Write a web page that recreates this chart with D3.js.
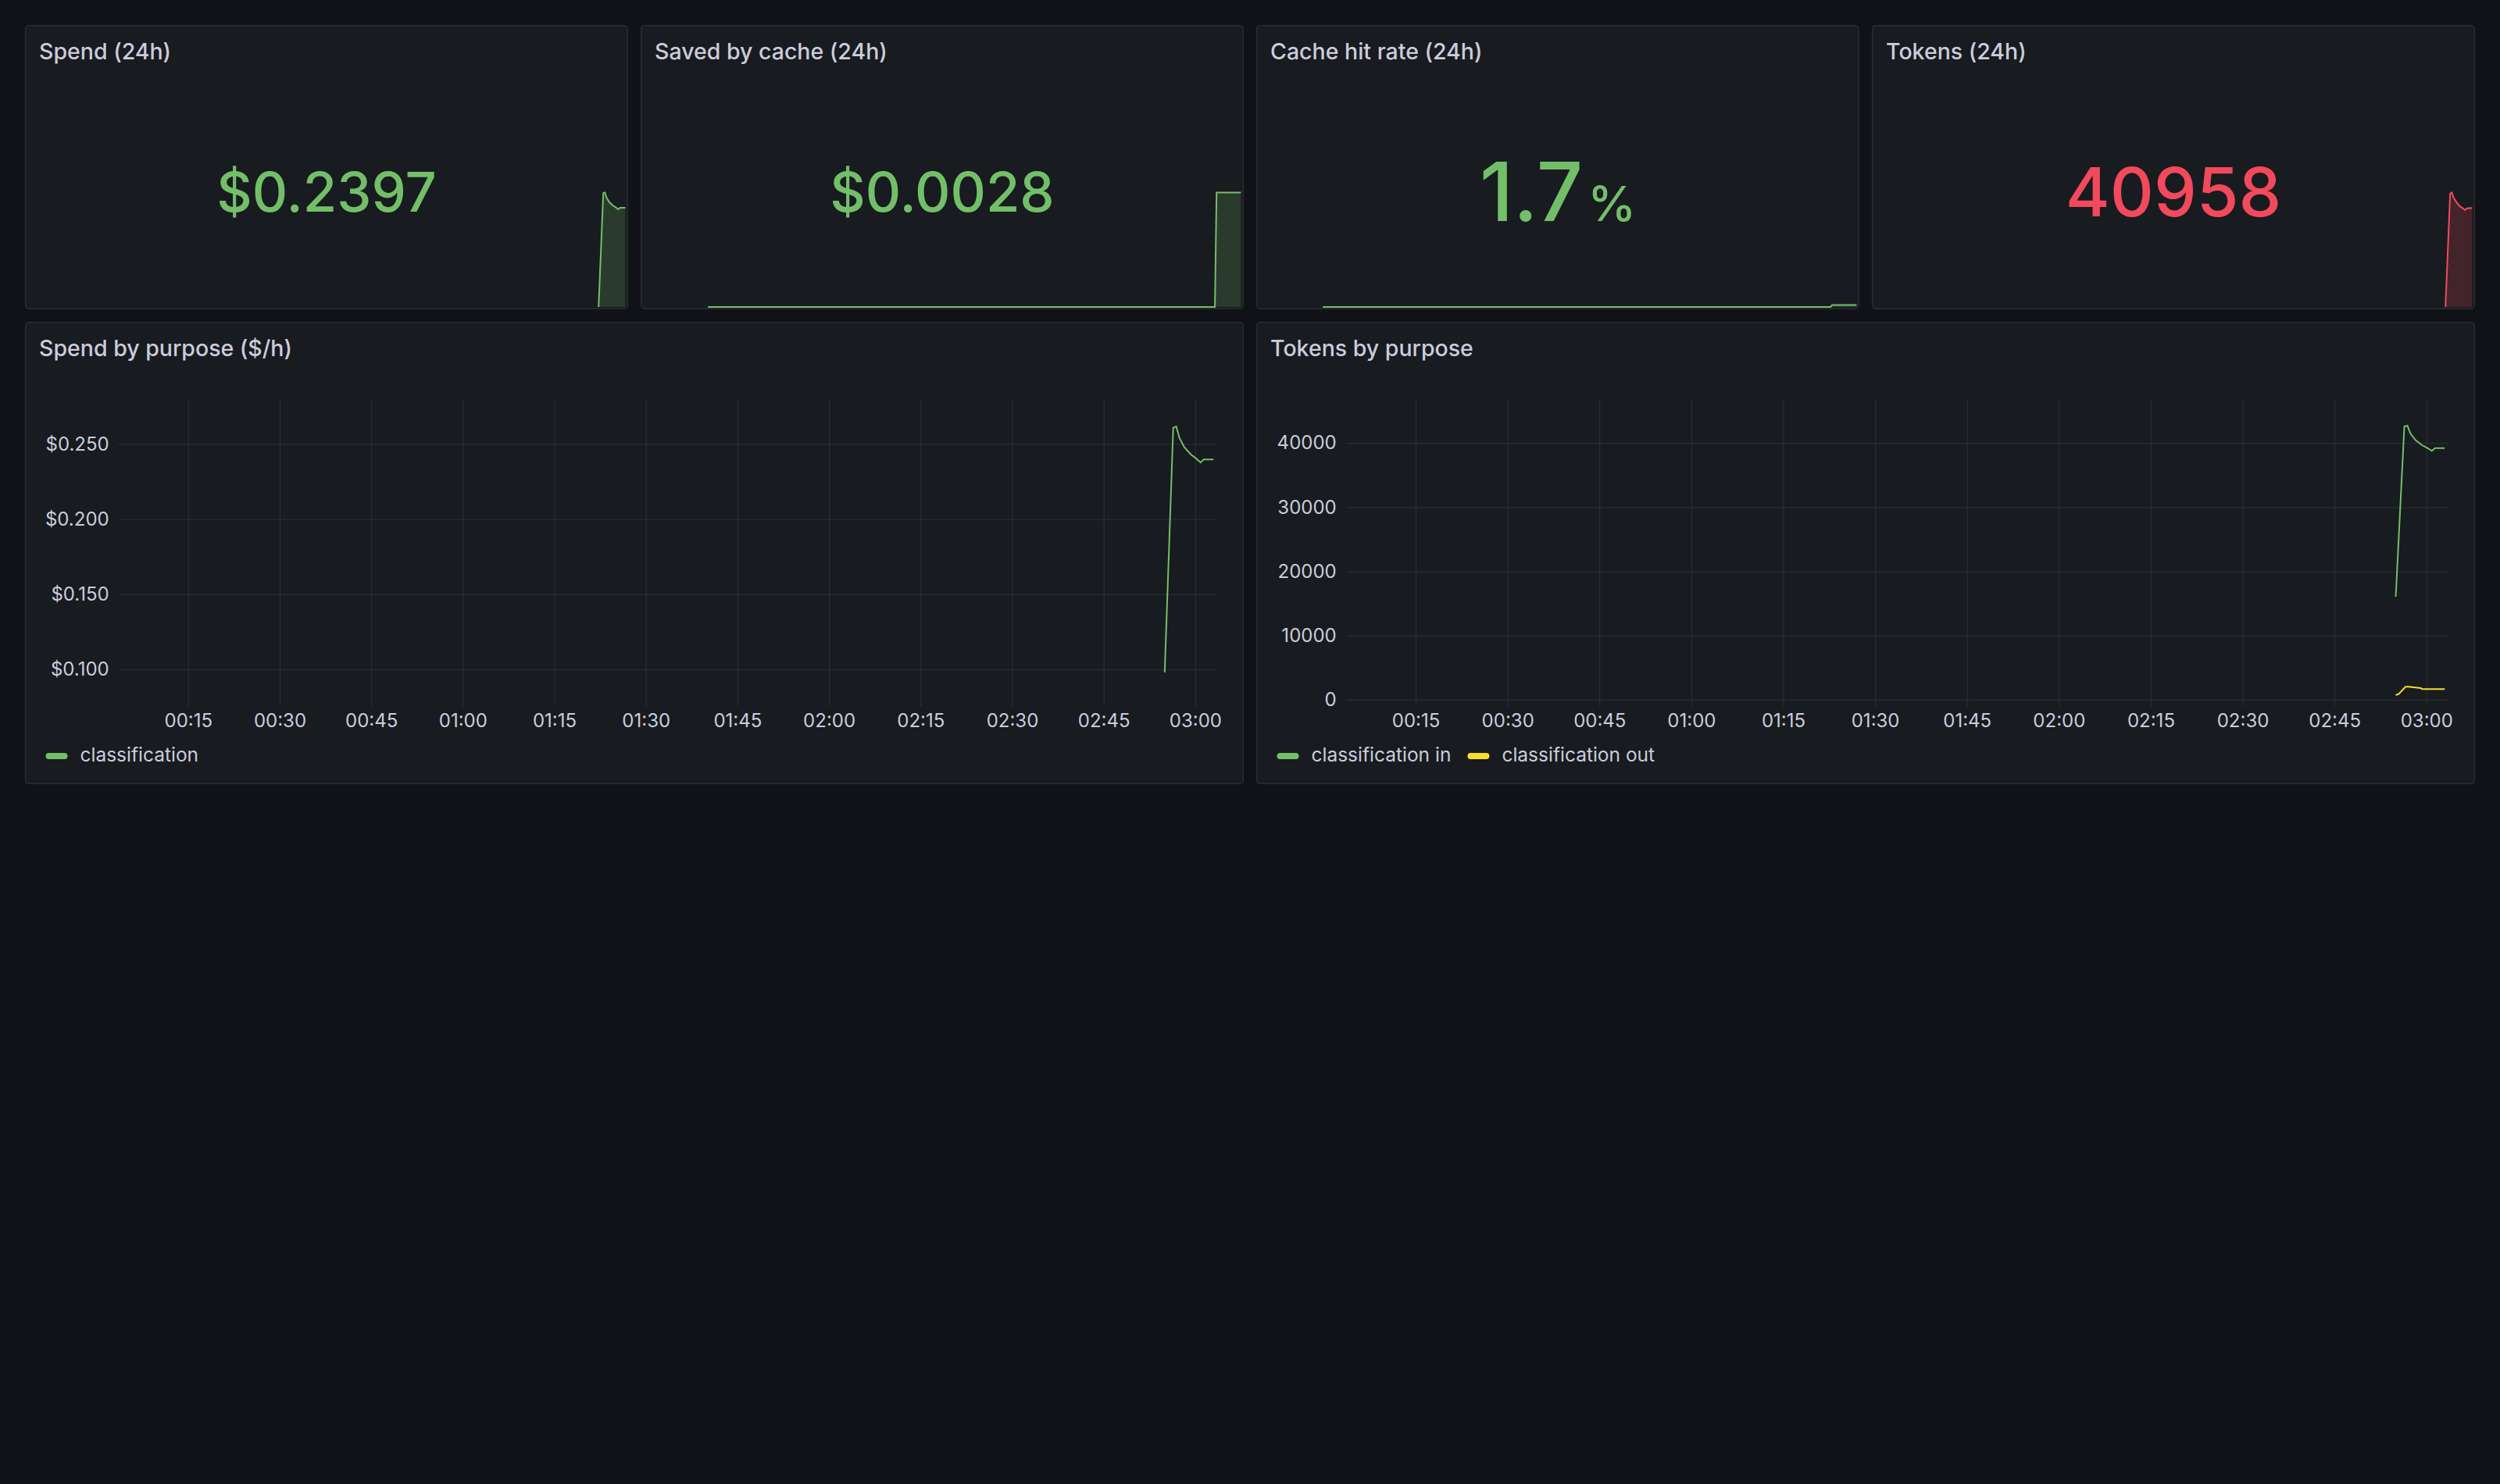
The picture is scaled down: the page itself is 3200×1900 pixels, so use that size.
<!DOCTYPE html>
<html><head><meta charset="utf-8">
<script src="https://cdn.jsdelivr.net/npm/d3@7"></script>
<style>html,body{margin:0;padding:0;background:#111217;overflow:hidden}</style>
</head><body>
<svg id="chart" width="3200" height="1900"></svg>
<script>
// ---------------- data ----------------
const statTitles = ["Spend (24h)", "Saved by cache (24h)", "Cache hit rate (24h)", "Tokens (24h)"];
const statValues = [0.2397, 0.0028, 1.7, 40958];
const statUnits = ["", "", "%", ""];
const statColors = ["#73bf69", "#73bf69", "#73bf69", "#f2495c"];

// time in minutes after 00:00
const timeDomain = [3.6, 183.6];
const seriesTimes = [175.0, 176.4, 176.9, 177.4, 178.2, 179.3, 180.1, 180.9, 181.4, 183.0];
const spendValues = [0.0980, 0.2608, 0.2616, 0.2541, 0.2479, 0.2429, 0.2405, 0.2376, 0.2397, 0.2397];
const tokensInValues = [16060, 42580, 42700, 41480, 40470, 39660, 39260, 38770, 39200, 39200];
const tokensOutTimes = [175.0, 175.5, 176.6, 177.1, 179.1, 179.3, 183.0];
const tokensOutValues = [730, 935, 2030, 2030, 1830, 1680, 1680];
const tokensTotalValues = [16790, 44480, 44730, 43510, 42480, 41360, 40940, 40450, 40880, 40958];
const savedTimes = [23.5, 175.2, 175.7, 183.0];
const savedValues = [0, 0, 0.0028, 0.0028];
const cacheTimes = [23.3, 175.2, 175.7, 183.0];
const cacheValues = [0, 0, 1.7, 1.7];

const xTickMinutes = [15, 30, 45, 60, 75, 90, 105, 120, 135, 150, 165, 180];
const xTickLabels = ["00:15", "00:30", "00:45", "01:00", "01:15", "01:30", "01:45", "02:00", "02:15", "02:30", "02:45", "03:00"];
const spendTicks = [0.10, 0.15, 0.20, 0.25];
const spendTickLabels = ["$0.100", "$0.150", "$0.200", "$0.250"];
const tokenTicks = [0, 10000, 20000, 30000, 40000];
const tokenTickLabels = ["0", "10000", "20000", "30000", "40000"];

const spendLegend = ["classification"];
const tokenLegend = ["classification in", "classification out"];
const spendSeriesColors = ["#73bf69"];
const tokenSeriesColors = ["#73bf69", "#fade2a"];

// ---------------- drawing ----------------
const svg = d3.select("#chart");
const FONT = "Inter, 'Open Sans', sans-serif";
const TEXT = "#ccccdc";
const PANEL_BG = "#181b1f";
const BORDER = "#2a2c32";
const GRID = "#2e3137";

svg.append("rect").attr("width", 3200).attr("height", 1900).attr("fill", "#111217");

function panel(x, y, w, h, title) {
  const g = svg.append("g");
  g.append("rect").attr("x", x + 0.75).attr("y", y + 0.75).attr("width", w - 1.5).attr("height", h - 1.5)
    .attr("rx", 4).attr("fill", PANEL_BG).attr("stroke", BORDER).attr("stroke-width", 1.5);
  g.append("text").attr("x", x + 18).attr("y", y + 44).text(title)
    .attr("font-family", FONT).attr("font-size", 28.5).attr("font-weight", 500).attr("fill", TEXT);
  return g;
}

// ---- stat panels ----
const statW = 772, statH = 364, statY = 32;
const statFont = [70.5, 70.5, 104, 87];
const statSeries = [
  { t: seriesTimes, v: spendValues, dom: null },
  { t: savedTimes, v: savedValues, dom: null },
  { t: cacheTimes, v: cacheValues, dom: [0, 100] },
  { t: seriesTimes, v: tokensTotalValues, dom: null }
];
function fmtStat(i) {
  const v = statValues[i];
  if (i < 2) return "$" + v.toFixed(4);
  if (i === 2) return v.toFixed(1);
  return String(v);
}
statTitles.forEach((title, i) => {
  const x = 32 + i * (statW + 16);
  const g = panel(x, statY, statW, statH, title);
  const s = statSeries[i];
  const xs = d3.scaleLinear().domain(timeDomain).range([x + 1, x + statW - 1]);
  const ys = d3.scaleLinear().domain(s.dom || d3.extent(s.v)).range([393, 246.5]);
  const pts = s.t.map((t, k) => [t, s.v[k]]);
  const area = d3.area().x(d => xs(d[0])).y0(393).y1(d => ys(d[1]));
  const line = d3.line().x(d => xs(d[0])).y(d => ys(d[1]));
  g.append("path").attr("d", area(pts)).attr("fill", statColors[i]).attr("fill-opacity", 0.2);
  g.append("path").attr("d", line(pts)).attr("fill", "none").attr("stroke", statColors[i]).attr("stroke-width", 2);
  const F = statFont[i];
  const t = g.append("text").attr("x", x + statW / 2).attr("y", 245.5 + 0.727 * F / 2)
    .attr("text-anchor", "middle").attr("font-family", FONT).attr("font-weight", 500)
    .attr("fill", statColors[i]).attr("font-size", F);
  t.append("tspan").text(fmtStat(i));
  if (statUnits[i]) t.append("tspan").attr("font-size", F * 0.6).attr("dx", 6).text(statUnits[i]);
});

// ---- time series panels ----
const tsY = 412, tsH = 592;
function timeSeries(px, pw, title, plotLeft, yDomain, yTicks, yLabels, series, legend, colors) {
  const g = panel(px, tsY, pw, tsH, title);
  const top = 511, bottom = 904, right = px + pw - 34;
  const xs = d3.scaleLinear().domain(timeDomain).range([plotLeft, right]);
  const ys = d3.scaleLinear().domain(yDomain).range([bottom, top]);
  const xAxis = d3.axisBottom(xs).tickValues(xTickMinutes)
    .tickFormat((d, k) => xTickLabels[k]).tickSize(-(bottom - top)).tickPadding(18.5);
  const gx = g.append("g").attr("transform", `translate(0,${bottom})`).call(xAxis);
  const yAxis = d3.axisLeft(ys).tickValues(yTicks)
    .tickFormat((d, k) => yLabels[k]).tickSize(-(right - plotLeft)).tickPadding(12);
  const gy = g.append("g").attr("transform", `translate(${plotLeft},0)`).call(yAxis);
  [gx, gy].forEach(a => {
    a.select(".domain").remove();
    a.selectAll("line").attr("stroke", GRID).attr("stroke-width", 1);
    a.selectAll("text").attr("fill", TEXT).attr("font-family", FONT).attr("font-size", 24);
  });
  gx.selectAll("text").attr("dy", "0.35em");
  series.forEach((s, k) => {
    const pts = s.t.map((t, j) => [t, s.v[j]]);
    g.append("path").attr("d", d3.line().x(d => xs(d[0])).y(d => ys(d[1]))(pts))
      .attr("fill", "none").attr("stroke", colors[k]).attr("stroke-width", 2);
  });
  let lx = px + 26.5;
  legend.forEach((name, k) => {
    g.append("rect").attr("x", lx).attr("y", 964).attr("width", 28).attr("height", 8).attr("rx", 4).attr("fill", colors[k]);
    const tx = g.append("text").attr("x", lx + 44).attr("y", 968).attr("dominant-baseline", "middle")
      .attr("font-family", FONT).attr("font-size", 24.5).attr("fill", TEXT).text(name);
    lx += 44 + tx.node().getComputedTextLength() + 21;
  });
}
timeSeries(32, 1560, "Spend by purpose ($/h)", 151.7, [0.0756, 0.2798], spendTicks, spendTickLabels,
  [{ t: seriesTimes, v: spendValues }], spendLegend, spendSeriesColors);
timeSeries(1608, 1560, "Tokens by purpose", 1722.7, [-970, 46840], tokenTicks, tokenTickLabels,
  [{ t: seriesTimes, v: tokensInValues }, { t: tokensOutTimes, v: tokensOutValues }], tokenLegend, tokenSeriesColors);
</script>
</body></html>
